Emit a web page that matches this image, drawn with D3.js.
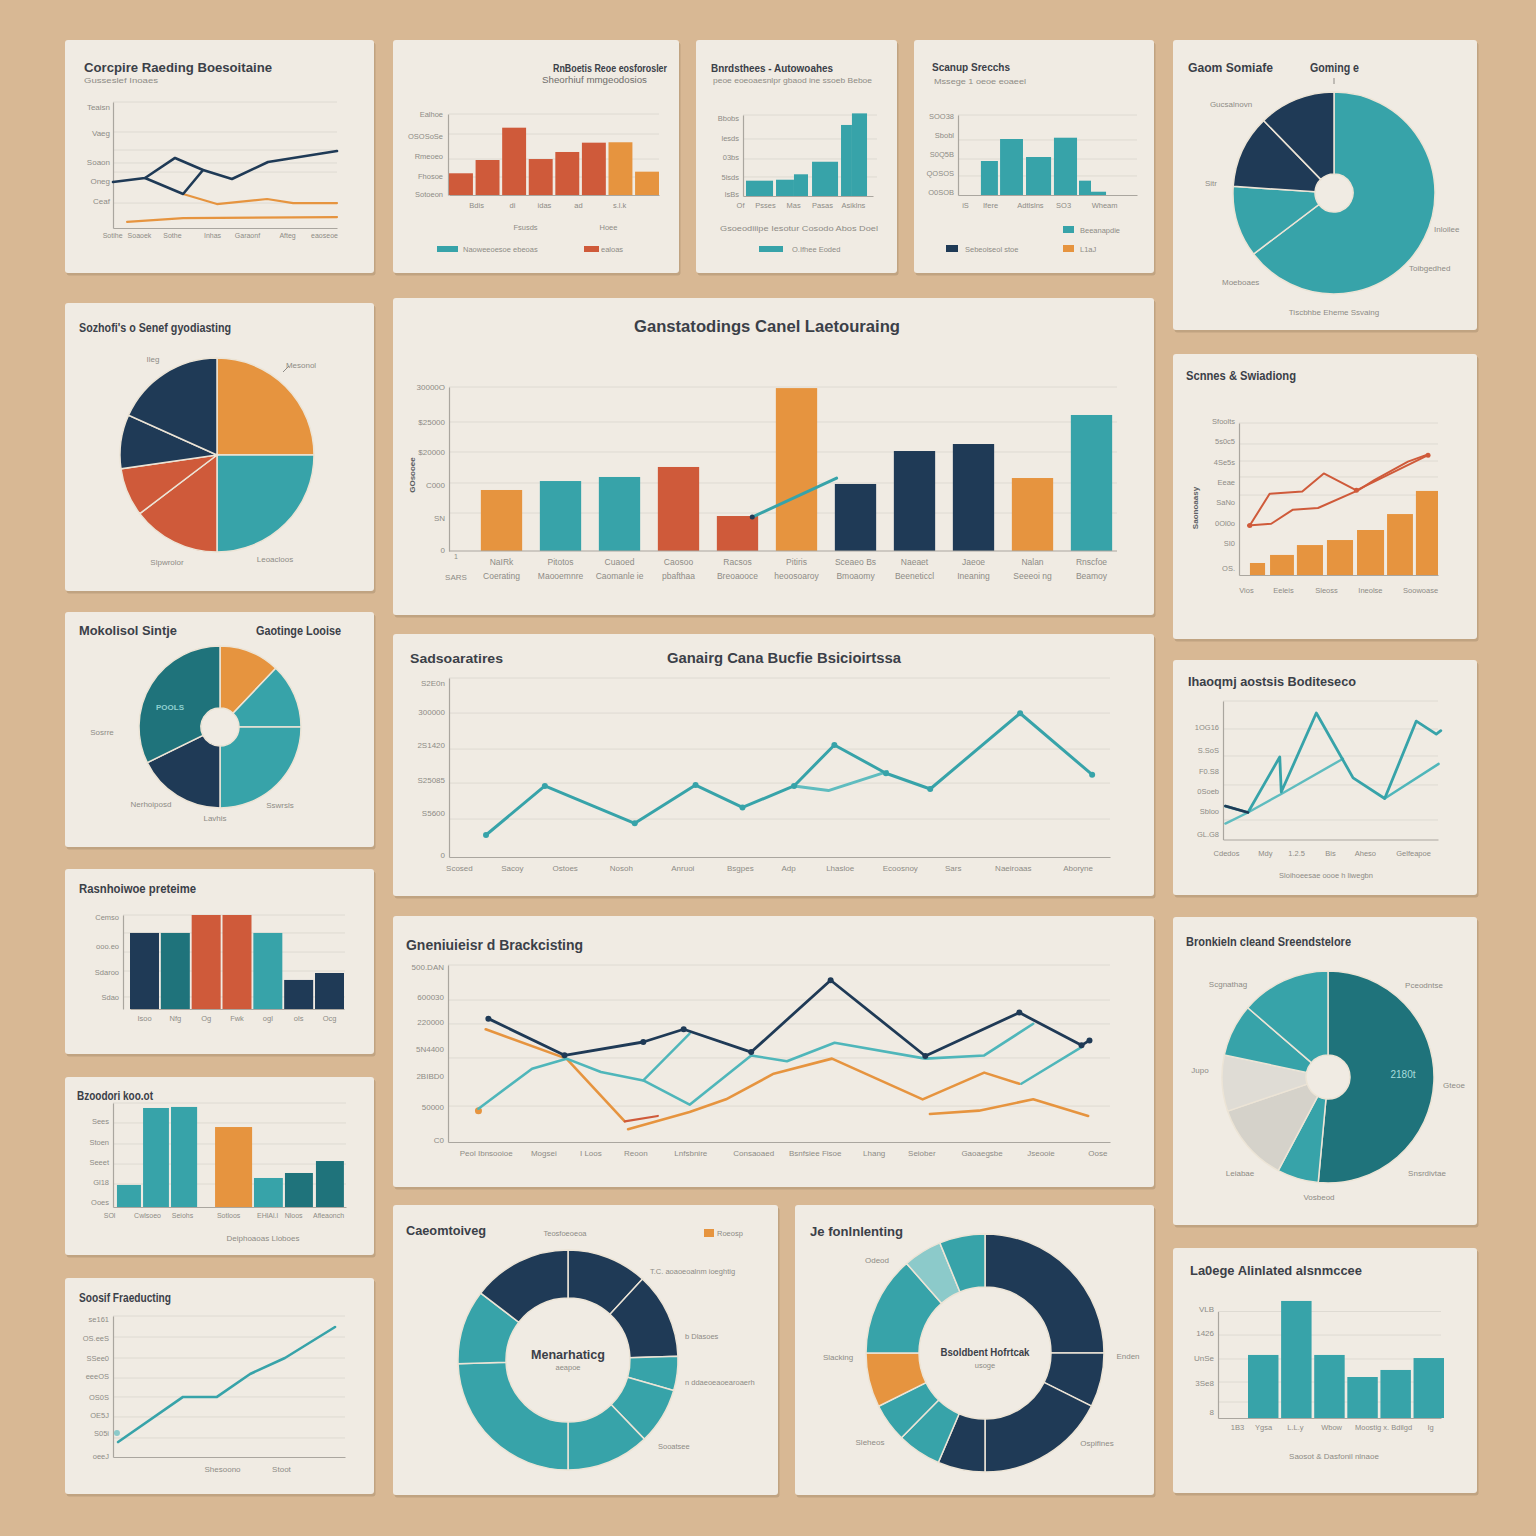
<!DOCTYPE html>
<html><head><meta charset="utf-8">
<script src="https://cdn.jsdelivr.net/npm/d3@7"></script>
<style>html,body{margin:0;padding:0;background:#d8b894;} svg{display:block}</style>
</head><body>
<script>
// ================= DATA =================
// Panel 1 – line chart
const p1Title="Corcpire Raeding Boesoitaine", p1Sub="Gusseslef Inoaes";
const p1YTicks=[96,75.4,52.4,37.3,21.4], p1YLabels=["Teaisn","Vaeg","Soaon","Oneg","Ceaf"];
const p1Grid=[100,76.2,61.9,51.6,44.4,19.8];
const p1XPos=[-0.4,11.6,26.3,44.2,59.8,77.7,94.2], p1XLabels=["Sotihe","Soaoek","Sothe","Inhas","Garaonf","Afteg","eaoseoe"];
const p1NavyAX=[0,14.3,27.7,40.2,53.1,69.2,100], p1NavyAY=[36.5,39.7,55.6,46.0,38.9,52.4,61.1];
const p1NavyBX=[14.3,31.3,40.2], p1NavyBY=[39.7,27.0,46.0];
const p1OrangeAX=[31.3,46.4,68.8,80.4,100], p1OrangeAY=[27.0,19.0,23.0,19.8,19.8];
const p1OrangeBX=[6.3,31.3,100], p1OrangeBY=[4.8,7.9,8.7];

// Panel 2 – bars
const p2Title="RnBoetis Reoe eosforosler", p2Sub="Sheorhiuf mmgeodosios";
const p2YTicks=[100,72.8,48.1,23.5,1.2], p2YLabels=["Ealhoe","OSOSoSe","Rmeoeo","Fhosoe","Sotoeon"];
const p2Grid=[100,75.3,44.4,22.2];
const p2Values=[26.8,43.2,83.1,44.4,53.1,64.6,65.1,28.8];
const p2Groups=["red","red","red","red","red","red","orange","orange"];
const p2XPos=[12.9,30,45.2,61.4,81], p2XLabels=["Bdis","di","idas","ad","s.l.k"];
const p2X2Pos=[36.2,75.7], p2X2Labels=["Fsusds","Hoee"];
const p2Legend=["Naoweeoesoe ebeoas","ealoas"];

// Panel 3 – stepped bars
const p3Title="Bnrdsthees - Autowoahes", p3Sub="peoe eoeoaesnlpr gbaod ine ssoeb Beboe";
const p3YTicks=[96.3,71.6,48.1,23.5,2.5], p3YLabels=["Bbobs","lesds","03bs","5lsds","lsBs"];
const p3Grid=[100,70.4,45.7,23.5];
const p3BarX0=[2.3,25.4,39.2,53.1,75.4,83.8], p3BarX1=[23.1,39.2,50,73.1,83.8,95.4];
const p3Values=[18.9,20.1,26.8,42.3,87.7,102];
const p3XPos=[-2.3,16.9,38.5,60.8,84.6], p3XLabels=["Of","Psses","Mas","Pasas","Asiklns"];
const p3Note="Gsoeodiiipe Iesotur Cosodo Abos Doel", p3Legend=["O.Ifhee Eoded"];

// Panel 4 – bars
const p4Title="Scanup Srecchs", p4Sub="Mssege 1 oeoe eoaeel";
const p4YTicks=[98.8,75,51.3,27.5,3.8], p4YLabels=["SOO38","Sbobl","S0Q5B","QOSOS","O0SOB"];
const p4Grid=[100,68.8,45,23.8];
const p4BarX0=[12.8,23.5,38.0,53.6,67.6,74.3], p4BarX1=[22.3,36.3,52.0,66.5,74.3,82.7];
const p4Values=[42.5,70,47.5,71.6,17.9,4.1];
const p4XPos=[3.9,17.9,40.2,58.7,81.6], p4XLabels=["iS","Ifere","Adtlslns","SO3","Wheam"];
const p4Legend=["Beeanapdie","Sebeoiseol stoe","L1aJ"];

// Panel 5 – donut
const p5Titles=["Gaom Somiafe","Goming e"];
const p5Values=[232.8,41,42,44.2], p5Groups=["teal","teal","navy","navy"];
const p5Labels=["Gucsalnovn","Sitr","Inloilee","Toibgedhed","Moeboaes"], p5Foot="Tiscbhbe Eheme Ssvaing";

// Panel 6 – pie
const p6Title="Sozhofi's o Senef gyodiasting";
const p6Values=[90,90,52.8,29,32.4,65.8], p6Groups=["orange","teal","red","red","navy","navy"];
const p6Labels=["Ileg","Mesonol","Slpwrolor","Leoacloos"];

// Panel 7 – donut
const p7Titles=["Mokolisol Sintje","Gaotinge Looise"];
const p7Values=[43.5,46.5,90,63.9,116.1], p7Groups=["orange","teal","teal","navy","dteal"];
const p7Labels=["Sosrre","Nerhoiposd","Lavhis","Sswrsls"], p7Inner="POOLS";

// Panel 8 – bars
const p8Title="Rasnhoiwoe preteime";
const p8YTicks=[97.9,67.0,39.4,12.8], p8YLabels=["Cemso","ooo.eo","Sdaroo","Sdao"];
const p8Grid=[100,80.9,60.6,40.4,12.8];
const p8Values=[80.9,80.9,100,100,80.9,30.9,38.3];
const p8Groups=["navy","dteal","red","red","teal","navy","navy"];
const p8XLabels=["Isoo","Nfg","Og","Fwk","ogl","ols","Ocg"];

// Panel 9 – bars
const p9Title="Bzoodori koo.ot";
const p9YTicks=[82.7,62.5,43.3,24.0,4.8], p9YLabels=["Sees","Stoen","Seeet","Gl18","Ooes"];
const p9Grid=[100,80.8,60.6,41.3,22.1];
const p9BarX0=[1.7,12.9,24.9,43.8,60.5,73.8,87.1], p9BarX1=[12.0,24.0,36.1,59.7,72.9,85.8,99.1];
const p9Values=[21.2,95.2,96.2,76.9,27.9,32.7,44.2];
const p9Groups=["teal","teal","teal","orange","teal","dteal","dteal"];
const p9XPos=[-1.7,14.6,29.6,49.4,66.1,77.3,92.3], p9XLabels=["SOl","Cwlsoeo","Seiohs","Sotloos","EHlAl.l","Nloos","Afleaonch"];
const p9Foot="Deiphoaoas Lloboes";

// Panel 10 – line
const p10Title="Soosif Fraeducting";
const p10YTicks=[97.9,84.4,70.2,57.4,42.6,29.8,17.0,0.7], p10YLabels=["se161","OS.eeS","SSee0","eeeOS","OS0S","OE5J","S05i","oeeJ"];
const p10Grid=[100,85.1,70.2,56.0,42.6,28.4,13.5];
const p10X=[2.2,30.2,44.8,59.1,74.1,95.7], p10Y=[10.6,42.6,42.6,58.9,70.2,92.2];
const p10FootPos=[47,72.4], p10Foot=["Shesoono","Stoot"];

// Panel 11 – big bars
const p11Title="Ganstatodings Canel Laetouraing", p11YTitle="GOsooee";
const p11YTicks=[300,236,181.1,120.7,60.4,1.8], p11YLabels=["30000O","$25000","$20000","C000","SN","0"];
const p11Grid=[300,236,181.1,124.4,69.5];
const p11Values=[111.6,128,135.4,153.7,64,298,122.6,182.9,195.7,133.5,248.8];
const p11Groups=["orange","teal","teal","red","red","orange","navy","navy","navy","orange","teal"];
const p11Row1=["NaIRk","Pitotos","Cuaoed","Caosoo","Racsos","Pitiris","Sceaeo Bs","Naeaet","Jaeoe","Nalan","Rnscfoe"];
const p11Row2=["Coerating","Maooemnre","Caomanle ie","pbafthaa","Breoaooce","heoosoaroy","Bmoaomy","Beeneticcl","Ineaning","Seeeoi ng","Beamoy"];
const p11LineIdx=[4.25,5.68], p11LineVal=[62,133.5];

// Panel 12 – line
const p12Titles=["Sadsoaratires","Ganairg Cana Bucfie Bsicioirtssa"];
const p12YTicks=[97.2,81.0,62.6,43.0,24.6,1.1], p12YLabels=["S2E0n","300000","2S1420","S25085","S5600","0"];
const p12Grid=[100,80.4,60.3,41.3,21.2];
const p12X=[5.6,14.5,28.1,37.3,44.4,52.2,58.3,66.1,72.8,86.4,97.3], p12Y=[12.3,39.7,18.8,40.2,27.7,39.7,62.6,46.8,38.0,80.3,46.0];
const p12BX=[52.2,57.4,66.3], p12BY=[39.7,37.1,47.7];
const p12XPos=[1.5,9.5,17.5,26.0,35.3,44.0,51.3,59.1,68.2,76.2,85.3,95.1];
const p12XLabels=["Scosed","Sacoy","Ostoes","Nosoh","Anruoi","Bsgpes","Adp","Lhasloe","Ecoosnoy","Sars","Naeiroaas","Aboryne"];

// Panel 13 – multi line
const p13Title="Gneniuieisr d Brackcisting";
const p13YTicks=[98.9,81.9,67.8,52.5,37.3,19.8,1.1], p13YLabels=["500.DAN","600030","220000","5N4400","2BIBD0","50000","C0"];
const p13Grid=[100,80.2,66.7,47.5,20.3];
const p13NavyX=[6.1,17.6,29.5,35.6,45.8,57.8,72.1,86.3,95.7,96.9], p13NavyY=[69.7,49.0,56.5,63.7,50.8,91.4,48.6,73.1,54.6,57.4];
const p13TealAX=[4.6,12.7,17.9,23.1,29.5,36.5,45.8,51.2,58.4,72.1,81.0,88.4], p13TealAY=[18.8,41.4,47.1,39.5,34.8,21.1,48.9,45.6,56.1,47.1,48.9,66.8];
const p13TealBX=[29.5,36.5], p13TealBY=[34.8,61.2];
const p13TealCX=[86.6,95.7], p13TealCY=[32.9,53.6];
const p13OrangeAX=[5.7,17.9,26.7], p13OrangeAY=[63.7,47.1,11.7];
const p13RedX=[26.7,31.7], p13RedY=[11.7,14.7];
const p13OrangeBX=[27.2,36.5,42.0,49.2,58.0,71.7,81.0,86.3], p13OrangeBY=[7.2,16.9,24.1,38.6,47.1,24.1,39.2,32.9];
const p13OrangeCX=[72.8,80.2,88.4,96.7], p13OrangeCY=[15.8,17.7,24.1,14.7];
const p13DotX=[4.6], p13DotY=[17.7];
const p13XPos=[5.7,14.4,21.5,28.3,36.6,46.1,55.4,64.3,71.5,80.6,89.5,98.1];
const p13XLabels=["Peol Ibnsooioe","Mogsei","I Loos","Reoon","Lnfsbnire","Consaoaed","Bsnfsiee Fisoe","Lhang","Seiober","Gaoaegsbe","Jseooie","Oose"];

// Panel 14 – donut
const p14Title="Caeomtoiveg", p14Legend=["Teosfoeoeoa","Roeosp"];
const p14Values=[42.6,45.4,18.1,29.9,44,88,39.5,52.5], p14Groups=["navy","navy","teal","teal","teal","teal","teal","navy"];
const p14Center=["Menarhaticg","aeapoe"];
const p14Labels=["T.C. aoaoeoalnm ioeghtig","b Dlasoes","n ddaeoeaoearoaerh","Sooatsee"];

// Panel 15 – donut
const p15Title="Je fonlnlenting";
const p15Values=[90,26.5,63.5,23.1,21.5,18.8,26.6,48.8,18.9,22.3];
const p15Groups=["navy","navy","navy","navy","teal","teal","orange","teal","lteal","teal"];
const p15Center=["Bsoldbent Hofrtcak","usoge"];
const p15Labels=["Odeod","Slacking","Sleheos","Enden","Ospifines"];

// Panel 16 – bars + lines
const p16Title="Scnnes & Swiadiong", p16YTitle="Saonoaasy";
const p16YTicks=[101.3,88.2,74.3,61.2,48.0,34.2,21.1,4.6], p16YLabels=["Sfoolts","5s0c5","4Se5s","Eeae","SaNo","0Ol0o","SI0","OS."];
const p16Grid=[100,86.2,75,64.5,52.6];
const p16BarX0=[5.5,15.6,29.1,44.2,59.3,74.4,88.9], p16BarX1=[13.1,27.6,42.2,57.3,72.9,87.4,100];
const p16Values=[7.9,13.2,19.7,23,29.6,40.1,55.3];
const p16AX=[5.4,15.4,31.8,42.6,59.0,95.0], p16AY=[32.6,53.4,55.0,66.8,55.7,78.8];
const p16BX=[4.5,16.2,27.1,39.7,59.8,68.2,84.9,94.6], p16BY=[32.6,33.7,43.0,44.1,55.7,62.6,74.6,79.2];
const p16XPos=[3.5,22.1,43.7,65.8,91.0], p16XLabels=["Vios","Eeleis","Sleoss","Ineolse","Soowoase"];

// Panel 17 – lines
const p17Title="Ihaoqmj aostsis Boditeseco";
const p17YTicks=[81.2,64.6,49.5,35.0,20.6,4.0], p17YLabels=["1OG16","S.SoS","F0.S8","0Soeb","Sbloo","GL.G8"];
const p17Grid=[100,79.8,60.3,39.4,14.1];
const p17AX=[1.1,11.6,26.4,27.1,43.4,60.5,75.2,89.9,99.2,101.3], p17AY=[24.1,19.5,59.6,34.3,91.3,44.5,29.6,85.5,76.1,78.6];
const p17BX=[1.1,11.6,27.1,55.8], p17BY=[11.5,19.5,32.9,58.3];
const p17CX=[75.2,100.3], p17CY=[29.6,54.6];
const p17NX=[1.1,11.6], p17NY=[24.1,19.5];
const p17XPos=[1.4,19.5,34.0,49.8,66.0,88.4], p17XLabels=["Cdedos","Mdy","1.2.5","Bis","Aheso","Gelfeapoe"];
const p17Foot="Sloihoeesae oooe h liwegbn";

// Panel 18 – donut
const p18Title="Bronkieln cleand Sreendstelore";
const p18Values=[185.3,22.7,43.2,30.8,28.8,49.2], p18Groups=["dteal","teal","gray1","gray2","teal","teal"];
const p18Labels=["Scgnathag","Pceodntse","Jupo","Gteoe","Leiabae","Snsrdivtae","Vosbeod"], p18Inner="2180t";

// Panel 19 – bars
const p19Title="La0ege Alinlated alsnmccee";
const p19YTicks=[102.3,79.8,56.3,32.9,5.6], p19YLabels=["VLB","1426","UnSe","3Se8","8"];
const p19Grid=[100,77.9,55.4,33.8,15.0];
const p19Values=[59.2,109.9,59.2,38.5,45.1,56.3];
const p19XPos=[8.5,20.2,34.5,50.7,74.0,95.1], p19XLabels=["1B3","Ygsa","L.L.y","Wbow","Moostig x. Bdilgd","Ig"];
const p19Foot="Saosot & Dasfonil nlnaoe";

// ================= STYLE =================
const BG="#d8b894", CARD="#f0ebe3", TXT="#3b4048", TICK="#8e8b86", GRID="#dedad2", AXIS="#aaa69f", SEP="#ece4d6";
const COL={navy:"#1f3a56",teal:"#37a3a9",dteal:"#1f737b",orange:"#e6943f",red:"#cf5a3a",lteal:"#8ccaca",gray1:"#d5d2ca",gray2:"#dfdcd5"};
const FONT="'Liberation Sans', Arial, sans-serif";

const svg=d3.select("body").append("svg").attr("width",1536).attr("height",1536);
svg.append("rect").attr("width",1536).attr("height",1536).attr("fill",BG);

const CARDS=[[65,40,309,233],[393,40,286,233],[696,40,201,233],[914,40,240,233],[1173,40,304,290],
 [65,303,309,288],[65,612,309,235],[65,869,309,185],[65,1077,309,178],[65,1278,309,216],
 [393,298,761,317],[393,634,761,262],[393,916,761,271],[393,1205,385,290],[795,1205,359,290],
 [1173,354,304,285],[1173,660,304,235],[1173,917,304,308],[1173,1248,304,245]];
CARDS.forEach(([x,y,w,h])=>{
  svg.append("rect").attr("x",x+1.5).attr("y",y+2.5).attr("width",w).attr("height",h).attr("rx",3).attr("fill","#a88d6e").attr("opacity",0.5);
  svg.append("rect").attr("x",x).attr("y",y).attr("width",w).attr("height",h).attr("rx",3).attr("fill",CARD);
});

// ================= HELPERS =================
function txt(x,y,s,o={}){
  const t=svg.append("text").attr("x",x).attr("y",y).attr("dy","0.35em").text(s)
    .attr("font-family",FONT).attr("font-size",o.size||8).attr("font-weight",o.weight||"normal")
    .attr("fill",o.fill||TICK).attr("text-anchor",o.anchor||"start");
  if(o.len) t.attr("textLength",o.len).attr("lengthAdjust","spacingAndGlyphs");
  if(o.rot) t.attr("transform",`rotate(${o.rot},${x},${y})`);
  return t;
}
function title(x,y,s,len,size=13,anchor="start"){return txt(x,y,s,{size,weight:"bold",fill:TXT,len,anchor});}
function grid(y,vals,x0,x1){
  svg.append("g").selectAll("line").data(vals).join("line")
   .attr("x1",x0).attr("x2",x1).attr("y1",d=>y(d)).attr("y2",d=>y(d)).attr("stroke",GRID).attr("stroke-width",1);
}
function yAxis(y,vals,labels,x0,size=8,pad=4){
  const g=svg.append("g").attr("transform",`translate(${x0},0)`)
    .call(d3.axisLeft(y).tickValues(vals).tickFormat((d,i)=>labels[i]).tickSize(0).tickSizeOuter(0).tickPadding(pad));
  g.select(".domain").attr("stroke",AXIS).attr("stroke-width",1.2);
  g.selectAll("text").attr("fill",TICK).attr("font-size",size).attr("font-family",FONT);
  return g;
}
function xAxis(x,vals,labels,y0,size=8,pad=5,domain=true){
  const g=svg.append("g").attr("transform",`translate(0,${y0})`)
    .call(d3.axisBottom(x).tickValues(vals).tickFormat((d,i)=>labels[i]).tickSize(0).tickSizeOuter(0).tickPadding(pad));
  g.select(".domain").attr("stroke",domain?AXIS:"none").attr("stroke-width",1.2);
  g.selectAll("text").attr("fill",TICK).attr("font-size",size).attr("font-family",FONT);
  return g;
}
function line(x,y,xs,ys,color,w=2.5,op=1){
  svg.append("path").datum(d3.zip(xs,ys))
   .attr("d",d3.line().x(d=>x(d[0])).y(d=>y(d[1])))
   .attr("fill","none").attr("stroke",color).attr("stroke-width",w).attr("opacity",op)
   .attr("stroke-linejoin","round").attr("stroke-linecap","round");
}
function dots(x,y,xs,ys,color,r=2.5){
  svg.append("g").selectAll("circle").data(d3.zip(xs,ys)).join("circle")
   .attr("cx",d=>x(d[0])).attr("cy",d=>y(d[1])).attr("r",r).attr("fill",color);
}
function barsXY(x,y,x0s,x1s,vals,groups){
  svg.append("g").selectAll("rect").data(vals).join("rect")
   .attr("x",(d,i)=>x(x0s[i])).attr("width",(d,i)=>x(x1s[i])-x(x0s[i]))
   .attr("y",d=>y(d)).attr("height",d=>y(0)-y(d)).attr("fill",(d,i)=>COL[groups[i]]);
}
function barsBand(xb,y,vals,groups){
  svg.append("g").selectAll("rect").data(vals).join("rect")
   .attr("x",(d,i)=>xb(i)).attr("width",xb.bandwidth())
   .attr("y",d=>y(d)).attr("height",d=>y(0)-y(d)).attr("fill",(d,i)=>COL[groups[i]]);
}
function pie(cx,cy,r,ri,vals,groups){
  const arcs=d3.pie().sort(null).startAngle(0).endAngle(2*Math.PI)(vals);
  const arc=d3.arc().innerRadius(ri).outerRadius(r);
  svg.append("g").attr("transform",`translate(${cx},${cy})`).selectAll("path").data(arcs).join("path")
   .attr("d",arc).attr("fill",(d,i)=>COL[groups[i]]).attr("stroke",SEP).attr("stroke-width",1.5);
}
function swatch(x,y,w,h,c){svg.append("rect").attr("x",x).attr("y",y).attr("width",w).attr("height",h).attr("fill",COL[c]);}

// ================= PANELS =================
// P1
{ const x=d3.scaleLinear().domain([0,100]).range([113,337]), y=d3.scaleLinear().domain([0,100]).range([228,102]);
  title(84,67,p1Title,188,13); txt(84,80,p1Sub,{size:8,len:74});
  grid(y,p1Grid,113,337); yAxis(y,p1YTicks,p1YLabels,113,8,3); xAxis(x,p1XPos,p1XLabels,228,7,5);
  line(x,y,p1OrangeBX,p1OrangeBY,COL.orange,2.2); line(x,y,p1OrangeAX,p1OrangeAY,COL.orange,2.2);
  line(x,y,p1NavyBX,p1NavyBY,COL.navy,2.6); line(x,y,p1NavyAX,p1NavyAY,COL.navy,2.6);
}
// P2
{ const x=d3.scaleLinear().domain([0,100]).range([449,659]), y=d3.scaleLinear().domain([0,100]).range([195,114]);
  const xb=d3.scaleBand().domain(d3.range(p2Values.length)).range([449,659]).paddingInner(0.1);
  title(667,68,p2Title,114,11,"end"); txt(647,80,p2Sub,{size:8.5,len:105,anchor:"end",fill:"#6f6d6a"});
  grid(y,p2Grid,449,659); yAxis(y,p2YTicks,p2YLabels,448,7.5,5);
  barsBand(xb,y,p2Values,p2Groups);
  xAxis(x,p2XPos,p2XLabels,195,7.5,8); xAxis(x,p2X2Pos,p2X2Labels,195,7.5,30,false);
  swatch(437,246,21,6,"teal"); txt(463,249,p2Legend[0],{size:7.5});
  swatch(584,246,15,6,"red"); txt(601,249,p2Legend[1],{size:7.5});
}
// P3
{ const x=d3.scaleLinear().domain([0,100]).range([743,873]), y=d3.scaleLinear().domain([0,100]).range([196,115]);
  title(711,68,p3Title,122,11.5); txt(713,80,p3Sub,{size:7.5,len:159});
  grid(y,p3Grid,743,877); yAxis(y,p3YTicks,p3YLabels,743,7.5,4);
  barsXY(x,y,p3BarX0,p3BarX1,p3Values,p3Values.map(()=> "teal"));
  xAxis(x,p3XPos,p3XLabels,196,7.5,7);
  txt(799,228,p3Note,{size:8,anchor:"middle",len:158});
  swatch(759,246,24,6,"teal"); txt(792,249,p3Legend[0],{size:7.5});
}
// P4
{ const x=d3.scaleLinear().domain([0,100]).range([958,1137]), y=d3.scaleLinear().domain([0,100]).range([195,115]);
  title(932,67,p4Title,78,11.5); txt(934,81,p4Sub,{size:7.5,len:92});
  grid(y,p4Grid,958,1137); yAxis(y,p4YTicks,p4YLabels,958,7.5,4);
  barsXY(x,y,p4BarX0,p4BarX1,p4Values,p4Values.map(()=>"teal"));
  xAxis(x,p4XPos,p4XLabels,195,7.5,8);
  swatch(1063,226,11,7,"teal"); txt(1080,230,p4Legend[0],{size:7.5});
  swatch(946,245,12,7,"navy"); txt(965,249,p4Legend[1],{size:7.5});
  swatch(1063,245,11,7,"orange"); txt(1080,249,p4Legend[2],{size:7.5});
}
// P5
{ title(1188,68,p5Titles[0],85,12); title(1310,68,p5Titles[1],49,12);
  svg.append("line").attr("x1",1334).attr("x2",1334).attr("y1",78).attr("y2",84).attr("stroke",TICK);
  pie(1334,193,101,19,p5Values,p5Groups);
  const L=[[1231,104,"middle"],[1205,183,"start"],[1434,229,"start"],[1409,268,"start"],[1222,282,"start"]];
  p5Labels.forEach((s,i)=>txt(L[i][0],L[i][1],s,{size:8,anchor:L[i][2]}));
  txt(1334,312,p5Foot,{size:8,anchor:"middle"});
}
// P6
{ title(79,328,p6Title,152,12);
  pie(217,455,97,0,p6Values,p6Groups);
  const L=[[153,359],[301,365],[167,562],[275,559]];
  p6Labels.forEach((s,i)=>txt(L[i][0],L[i][1],s,{size:8,anchor:"middle"}));
  svg.append("line").attr("x1",283).attr("y1",372).attr("x2",289).attr("y2",366).attr("stroke",TICK);
}
// P7
{ title(79,631,p7Titles[0],98,12); title(256,631,p7Titles[1],85,12);
  pie(220,727,81,19,p7Values,p7Groups);
  txt(170,707,p7Inner,{size:8,anchor:"middle",fill:"#8fd0d0",weight:"bold"});
  const L=[[102,732],[151,804],[215,818],[280,805]];
  p7Labels.forEach((s,i)=>txt(L[i][0],L[i][1],s,{size:8,anchor:"middle"}));
}
// P8
{ const xb=d3.scaleBand().domain(d3.range(p8Values.length)).range([130,344]).paddingInner(0.06);
  const y=d3.scaleLinear().domain([0,100]).range([1009,915]);
  title(79,889,p8Title,117,12);
  grid(y,p8Grid,123,345); yAxis(y,p8YTicks,p8YLabels,123,7.5,4);
  barsBand(xb,y,p8Values,p8Groups);
  xAxis(xb,d3.range(p8Values.length),p8XLabels,1009,7.5,7);
}
// P9
{ const x=d3.scaleLinear().domain([0,100]).range([113,346]), y=d3.scaleLinear().domain([0,100]).range([1207,1103]);
  title(77,1096,p9Title,76,12);
  grid(y,p9Grid,113,346); yAxis(y,p9YTicks,p9YLabels,113,7.5,4);
  barsXY(x,y,p9BarX0,p9BarX1,p9Values,p9Groups);
  xAxis(x,p9XPos,p9XLabels,1207,7,6);
  txt(263,1238,p9Foot,{size:8,anchor:"middle"});
}
// P10
{ const x=d3.scaleLinear().domain([0,100]).range([113,345]), y=d3.scaleLinear().domain([0,100]).range([1457,1316]);
  title(79,1298,p10Title,92,12);
  grid(y,p10Grid,113,345); yAxis(y,p10YTicks,p10YLabels,113,7.5,4);
  xAxis(x,[],[],1457);
  line(x,y,p10X,p10Y,COL.teal,2.6);
  dots(x,y,[1.7],[17],COL.lteal,3);
  xAxis(x,p10FootPos,p10Foot,1457,8,9,false);
}
// P11
{ const xb=d3.scaleBand().domain(d3.range(p11Values.length)).range([472,1121]).paddingInner(0.3).paddingOuter(0.15);
  const y=d3.scaleLinear().domain([0,300]).range([551,387]);
  const xi=d3.scaleLinear().domain([0,10]).range([xb(0)+xb.bandwidth()/2, xb(10)+xb.bandwidth()/2]);
  title(767,326,p11Title,266,16,"middle");
  grid(y,p11Grid,449,1117); yAxis(y,p11YTicks,p11YLabels,449,8,4);
  txt(412,475,p11YTitle,{size:8,weight:"bold",fill:"#5d5f63",anchor:"middle",rot:-90});
  barsBand(xb,y,p11Values,p11Groups);
  svg.append("line").attr("x1",449).attr("x2",1117).attr("y1",y(0)).attr("y2",y(0)).attr("stroke",AXIS).attr("stroke-width",1.2);
  xAxis(xb,d3.range(11),p11Row1,551,8.5,8,false); xAxis(xb,d3.range(11),p11Row2,551,8.5,22,false);
  txt(454,557,"1",{size:7}); txt(456,577,"SARS",{size:8,anchor:"middle"});
  line(xi,y,p11LineIdx,p11LineVal,COL.teal,3);
  dots(xi,y,[p11LineIdx[0]],[p11LineVal[0]],COL.navy,2.5);
}
// P12
{ const x=d3.scaleLinear().domain([0,100]).range([449,1110]), y=d3.scaleLinear().domain([0,100]).range([857,678]);
  title(410,658,p12Titles[0],93,13); title(784,658,p12Titles[1],234,14,"middle");
  grid(y,p12Grid,449,1110); yAxis(y,p12YTicks,p12YLabels,449,8,4);
  xAxis(x,p12XPos,p12XLabels,857,8,8);
  line(x,y,p12BX,p12BY,"#5fbcbf",3);
  line(x,y,p12X,p12Y,COL.teal,3);
  dots(x,y,p12X,p12Y,COL.teal,3);
}
// P13
{ const x=d3.scaleLinear().domain([0,100]).range([448,1110]), y=d3.scaleLinear().domain([0,100]).range([1142,965]);
  title(406,945,p13Title,177,14);
  grid(y,p13Grid,448,1110); yAxis(y,p13YTicks,p13YLabels,448,8,4);
  xAxis(x,p13XPos,p13XLabels,1142,8,8);
  line(x,y,p13OrangeCX,p13OrangeCY,COL.orange,2.6);
  line(x,y,p13OrangeBX,p13OrangeBY,COL.orange,2.6);
  line(x,y,p13OrangeAX,p13OrangeAY,COL.orange,2.6);
  line(x,y,p13RedX,p13RedY,COL.red,2.2);
  dots(x,y,p13DotX,p13DotY,COL.orange,3.5);
  line(x,y,p13TealBX,p13TealBY,"#4fb6ba",2.4);
  line(x,y,p13TealCX,p13TealCY,"#4fb6ba",2.4);
  line(x,y,p13TealAX,p13TealAY,"#4fb6ba",2.6);
  line(x,y,p13NavyX,p13NavyY,COL.navy,2.8);
  dots(x,y,p13NavyX,p13NavyY,COL.navy,3);
}
// P14
{ title(406,1231,p14Title,80,12);
  txt(565,1233,p14Legend[0],{size:7.5,anchor:"middle"});
  swatch(704,1229,10,8,"orange"); txt(717,1233,p14Legend[1],{size:7.5});
  pie(568,1360,110,62,p14Values,p14Groups);
  txt(568,1355,p14Center[0],{size:12,weight:"bold",fill:TXT,anchor:"middle",len:74});
  txt(568,1367,p14Center[1],{size:7.5,anchor:"middle"});
  const L=[[650,1271],[685,1336],[685,1382],[658,1446]];
  p14Labels.forEach((s,i)=>txt(L[i][0],L[i][1],s,{size:7.5}));
}
// P15
{ title(810,1232,p15Title,93,12);
  pie(985,1353,119,66,p15Values,p15Groups);
  txt(985,1352,p15Center[0],{size:11,weight:"bold",fill:TXT,anchor:"middle",len:89});
  txt(985,1365,p15Center[1],{size:7.5,anchor:"middle"});
  const L=[[877,1260],[838,1357],[870,1442],[1128,1356],[1097,1443]];
  p15Labels.forEach((s,i)=>txt(L[i][0],L[i][1],s,{size:8,anchor:"middle"}));
}
// P16
{ const x=d3.scaleLinear().domain([0,100]).range([1239,1438]), y=d3.scaleLinear().domain([0,100]).range([575,423]);
  title(1186,376,p16Title,110,12);
  grid(y,p16Grid,1239,1438); yAxis(y,p16YTicks,p16YLabels,1239,7.5,4);
  txt(1195,508,p16YTitle,{size:8,weight:"bold",fill:"#5d5f63",anchor:"middle",rot:-90});
  barsXY(x,y,p16BarX0,p16BarX1,p16Values,p16Values.map(()=>"orange"));
  xAxis(x,p16XPos,p16XLabels,575,7.5,13);
  line(x,y,p16BX,p16BY,COL.red,2); line(x,y,p16AX,p16AY,COL.red,2);
  dots(x,y,[p16AX[0],p16AX[4],p16AX[5]],[p16AY[0],p16AY[4],p16AY[5]],COL.red,2.5);
}
// P17
{ const x=d3.scaleLinear().domain([0,100]).range([1223,1438]), y=d3.scaleLinear().domain([0,100]).range([839.5,701]);
  title(1188,682,p17Title,168,12.5);
  grid(y,p17Grid,1223,1438); yAxis(y,p17YTicks,p17YLabels,1223,7.5,4);
  xAxis(x,p17XPos,p17XLabels,839.5,7.5,11);
  txt(1326,875,p17Foot,{size:7.5,anchor:"middle"});
  line(x,y,p17BX,p17BY,"#5fbcbf",2.4); line(x,y,p17CX,p17CY,"#4fb6ba",2.4);
  line(x,y,p17AX,p17AY,COL.teal,2.8);
  line(x,y,p17NX,p17NY,COL.navy,2.6);
}
// P18
{ title(1186,942,p18Title,165,12);
  pie(1328,1077,106,22,p18Values,p18Groups);
  txt(1403,1074,p18Inner,{size:10,fill:"#a6dcdc",anchor:"middle"});
  const L=[[1228,984],[1424,985],[1200,1070],[1454,1085],[1240,1173],[1427,1173],[1319,1197]];
  p18Labels.forEach((s,i)=>txt(L[i][0],L[i][1],s,{size:8,anchor:"middle"}));
}
// P19
{ const xb=d3.scaleBand().domain(d3.range(p19Values.length)).range([1248,1444]).paddingInner(0.08);
  const x=d3.scaleLinear().domain([0,100]).range([1218,1441]), y=d3.scaleLinear().domain([0,100]).range([1418,1311.5]);
  title(1190,1271,p19Title,172,12.5);
  grid(y,p19Grid,1218,1441); yAxis(y,p19YTicks,p19YLabels,1218,8,4);
  barsBand(xb,y,p19Values,p19Values.map(()=>"teal"));
  xAxis(x,p19XPos,p19XLabels,1418,7.5,7);
  txt(1334,1456,p19Foot,{size:8,anchor:"middle"});
}
</script>
</body></html>
